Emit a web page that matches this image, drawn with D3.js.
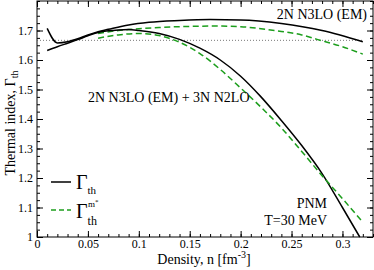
<!DOCTYPE html>
<html><head><meta charset="utf-8">
<script src="https://cdn.jsdelivr.net/npm/d3@7"></script>
<style>body{margin:0;background:#fff}svg{display:block}</style>
</head><body><svg id="c" width="374" height="270"></svg>
<script>
// Data (density n [fm^-3], thermal index)
const xTicks = [0, 0.05, 0.1, 0.15, 0.2, 0.25, 0.3];
const yTicks = [1, 1.1, 1.2, 1.3, 1.4, 1.5, 1.6, 1.7];
const n2N = [0.01,0.02,0.03,0.04,0.05,0.06,0.07,0.09,0.11,0.14,0.17,0.2,0.24,0.28,0.32];
const g2N = [1.707,1.658,1.662,1.672,1.685,1.696,1.704,1.719,1.728,1.734,1.737,1.736,1.724,1.70,1.662];
const n2Nm = [0.06,0.08,0.1,0.12,0.15,0.18,0.2,0.22,0.24,0.26,0.275,0.3,0.32];
const g2Nm = [1.69,1.70,1.706,1.71,1.714,1.715,1.713,1.706,1.697,1.685,1.67,1.645,1.62];
const n3N = [0.01,0.02,0.03,0.04,0.05,0.06,0.07,0.08,0.09,0.1,0.12,0.14,0.16,0.18,0.2,0.22,0.24,0.26,0.28,0.3,0.317];
const g3N = [1.632,1.645,1.657,1.669,1.682,1.693,1.699,1.702,1.703,1.70,1.69,1.67,1.64,1.60,1.545,1.475,1.395,1.31,1.215,1.10,1.0];
const n3Nm = [0.06,0.08,0.1,0.12,0.14,0.16,0.18,0.2,0.22,0.24,0.26,0.28,0.3,0.32];
const g3Nm = [1.674,1.685,1.69,1.683,1.66,1.622,1.568,1.505,1.44,1.37,1.29,1.208,1.13,1.05];
const idealGamma = 5/3;
const idealRange = [0, 0.32];

const FONT = '"Liberation Serif","DejaVu Serif","Times New Roman",Times,serif';
const svg = d3.select("#c").attr("font-family", FONT);
const L = 37, R = 373, T = 1, B = 237;
const x = d3.scaleLinear().domain([0, 0.33]).range([L, R]);
const y = d3.scaleLinear().domain([1, 1.8]).range([B, T]);
const fmt = d3.format("~g");
const xMinor = d3.range(0, 0.3301, 0.01);
const yMinor = d3.range(1, 1.8001, 0.025);

function ax(gen, scale, vals, size, labels, tx, ty, pad){
  const a = gen(scale).tickValues(vals).tickSize(size).tickPadding(pad);
  a.tickFormat(labels ? fmt : () => "");
  const g = svg.append("g").attr("transform", `translate(${tx},${ty})`).call(a);
  g.attr("font-family", FONT).attr("font-size", 12);
  g.select(".domain").remove();
  g.selectAll("line").attr("stroke", "#000");
  g.selectAll("text").attr("fill", "#000");
  return g;
}
ax(d3.axisBottom, x, xMinor, -3, false, 0, B, 2);
ax(d3.axisBottom, x, xTicks, -6, true, 0, B, 2);
ax(d3.axisTop, x, xMinor, -3, false, 0, T, 2);
ax(d3.axisTop, x, xTicks, -6, false, 0, T, 2);
ax(d3.axisLeft, y, yMinor, -3, false, L, 0, 4);
ax(d3.axisLeft, y, yTicks, -6, true, L, 0, 4);
ax(d3.axisRight, y, yMinor, -3, false, R, 0, 4);
ax(d3.axisRight, y, yTicks, -6, false, R, 0, 4);

svg.append("rect").attr("x", L).attr("y", T).attr("width", R - L).attr("height", B - T)
  .attr("fill", "none").attr("stroke", "#000").attr("stroke-width", 1);

// ideal gas line
svg.append("line").attr("x1", x(idealRange[0])).attr("x2", x(idealRange[1]))
  .attr("y1", y(idealGamma)).attr("y2", y(idealGamma))
  .attr("stroke", "#555").attr("stroke-width", 0.8).attr("stroke-dasharray", "1,2");

const line = d3.line().x(d => x(d[0])).y(d => y(d[1])).curve(d3.curveMonotoneX);
const green = "#1c9e1c";
function draw(ns, gs, color, dash){
  svg.append("path").datum(ns.map((v, i) => [v, gs[i]])).attr("d", line)
    .attr("fill", "none").attr("stroke", color).attr("stroke-width", 1.5)
    .attr("stroke-dasharray", dash || null);
}
draw(n2N, g2N, "#000");
draw(n2Nm, g2Nm, green, "6,3.5");
draw(n3N, g3N, "#000");
draw(n3Nm, g3Nm, green, "6,3.5");

function txt(xp, yp, s, anchor, size){
  return svg.append("text").attr("x", xp).attr("y", yp).attr("text-anchor", anchor)
    .attr("font-size", size).attr("fill", "#000").text(s);
}
txt(367, 19, "2N N3LO (EM)", "end", 14);
txt(88, 102, "2N N3LO (EM) + 3N N2LO", "start", 14);
txt(327, 208, "PNM", "end", 14);
txt(327, 225, "T=30 MeV", "end", 14);

// axis titles
const xl = svg.append("text").attr("x", 204).attr("y", 264).attr("text-anchor", "middle").attr("font-size", 14);
xl.append("tspan").text("Density, n [fm");
xl.append("tspan").attr("dy", -6).attr("font-size", 10).text("-3");
xl.append("tspan").attr("dy", 6).text("]");
const yl = svg.append("text").attr("transform", "translate(15,123) rotate(-90)").attr("text-anchor", "middle").attr("font-size", 14);
yl.append("tspan").text("Thermal index, Γ");
yl.append("tspan").attr("dy", 3).attr("font-size", 10).text("th");

// legend
svg.append("line").attr("x1", 51).attr("x2", 71).attr("y1", 182).attr("y2", 182).attr("stroke", "#000").attr("stroke-width", 1.5);
svg.append("line").attr("x1", 51).attr("x2", 71).attr("y1", 210).attr("y2", 210).attr("stroke", green).attr("stroke-width", 1.5).attr("stroke-dasharray", "5,3");
const l1 = svg.append("text").attr("x", 76).attr("y", 189).attr("font-size", 20);
l1.append("tspan").text("Γ");
l1.append("tspan").attr("dy", 5).attr("font-size", 11).text("th");
const l2 = svg.append("text").attr("x", 76).attr("y", 218).attr("font-size", 20);
l2.append("tspan").text("Γ");
l2.append("tspan").attr("dy", 7).attr("font-size", 12).text("th");
l2.append("tspan").attr("x", 88).attr("dy", -18).attr("font-size", 9).text("m");
l2.append("tspan").attr("dy", -3).attr("font-size", 7).text("*");
</script></body></html>
